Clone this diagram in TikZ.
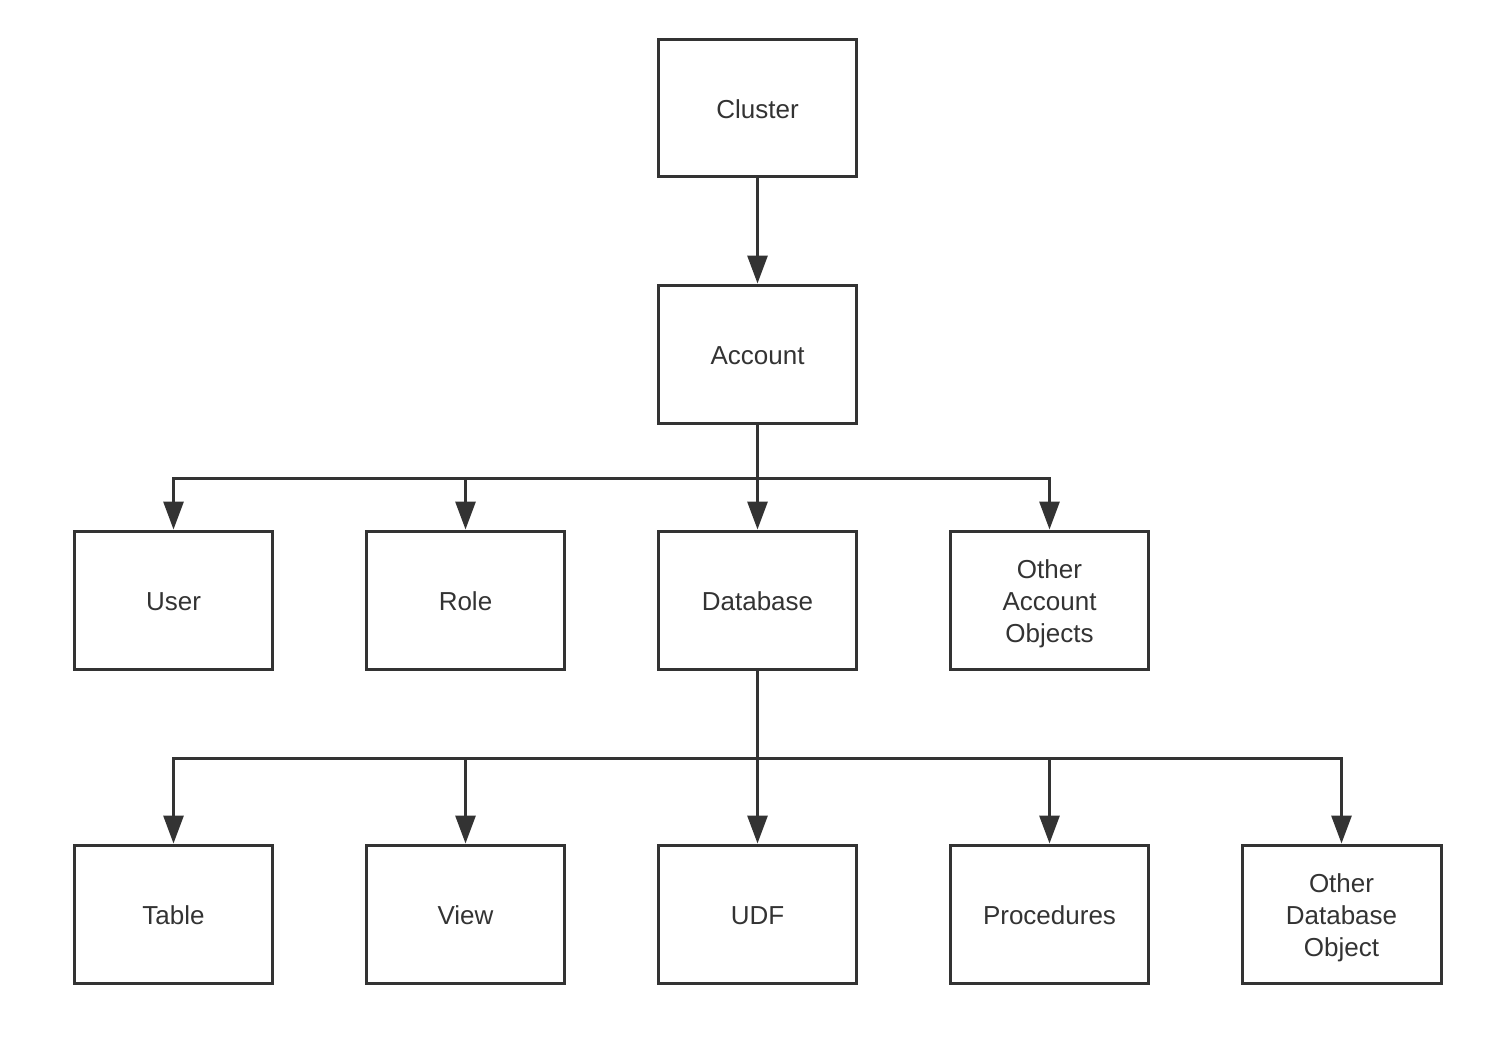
\documentclass[tikz,border=0pt]{standalone}
\usepackage{fontspec}
\setmainfont{Liberation Sans}
\usetikzlibrary{arrows.meta}
\definecolor{ink}{HTML}{333333}
\newcommand{\topfix}{\rule{0pt}{17.2pt}}
\tikzset{
  box/.style={draw=ink, line width=0.06cm, minimum width=3.98cm, minimum height=2.76cm,
    inner sep=0pt, align=center, font=\fontsize{14.8pt}{18.2pt}\selectfont, text=ink,
    execute at begin node={\rule{0pt}{17.3pt}}, execute at end node={\strut}},
  arr/.style={draw=ink, line width=0.06cm, -{Triangle[width=0.4cm,length=0.56cm]}},
  ln/.style={draw=ink, line width=0.06cm}
}
\begin{document}
\begin{tikzpicture}[x=0.02cm,y=-0.02cm]
\useasboundingbox (0,0) rectangle (1510,1036);
\node[box] (cluster) at (757.5,108) {Cluster};
\node[box] (account) at (757.5,354) {Account};
\node[box] (user) at (173.5,600) {User};
\node[box] (role) at (465.5,600) {Role};
\node[box] (database) at (757.5,600) {Database};
\node[box] (oao) at (1049.5,600) {\topfix Other\\Account\\Objects};
\node[box] (table) at (173.5,914) {Table};
\node[box] (view) at (465.5,914) {View};
\node[box] (udf) at (757.5,914) {UDF};
\node[box] (proc) at (1049.5,914) {Procedures};
\node[box] (odo) at (1341.5,914) {\topfix Other\\Database\\Object};
\coordinate (j1) at (757.5,478);
\coordinate (j2) at (757.5,758);
\draw[arr] (cluster.south) -- (account.north);
\draw[ln] (account.south) -- (j1);
\draw[arr] (j1) -| (user.north);
\draw[arr] (j1) -| (role.north);
\draw[arr] (j1) -- (database.north);
\draw[arr] (j1) -| (oao.north);
\draw[ln] (database.south) -- (j2);
\draw[arr] (j2) -| (table.north);
\draw[arr] (j2) -| (view.north);
\draw[arr] (j2) -- (udf.north);
\draw[arr] (j2) -| (proc.north);
\draw[arr] (j2) -| (odo.north);
\end{tikzpicture}
\end{document}
